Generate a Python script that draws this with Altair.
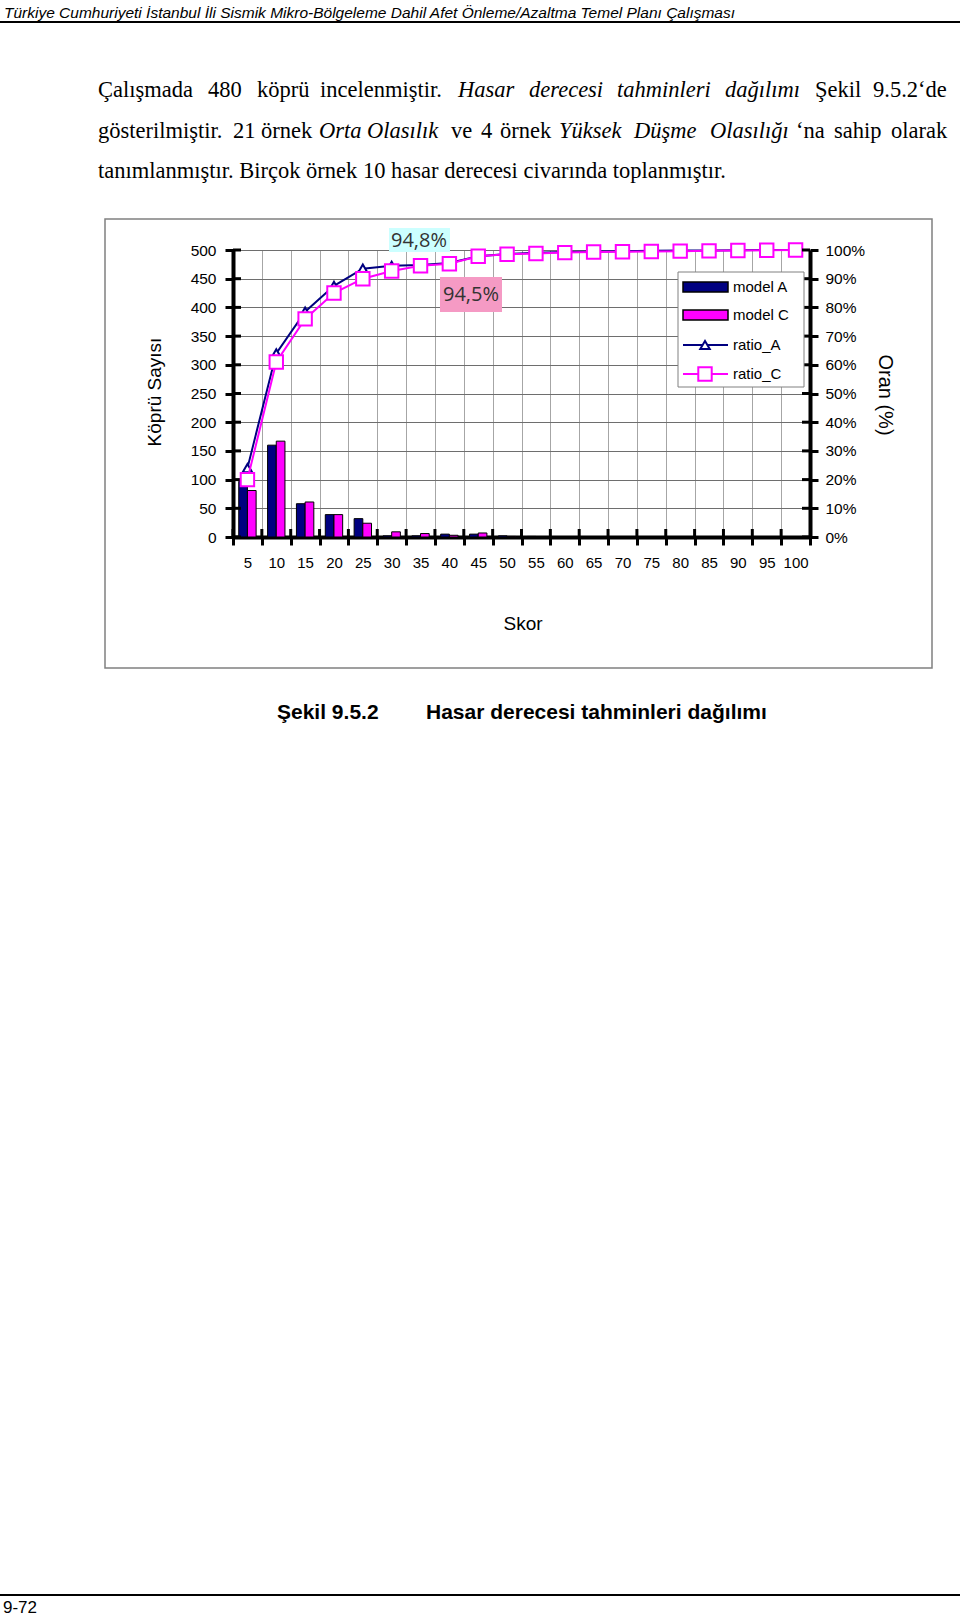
import altair as alt
import pandas as pd

# ---------------- data ----------------
scores = [5, 10, 15, 20, 25, 30, 35, 40, 45, 50, 55, 60, 65, 70, 75, 80, 85, 90, 95, 100]
model_A = [97, 160, 58, 39, 32, 2, 2, 5, 5, 2, 1, 0, 0, 0, 0, 0, 0, 0, 0, 0]
model_C = [81, 167, 61, 39, 24, 9, 6, 3, 7, 1, 0, 0, 0, 0, 0, 0, 0, 0, 0, 0]
ratio_A = [24, 64, 78.5, 87.5, 93.5, 94.5, 94.8, 95.5, 97.8, 98.6, 99, 99.3, 99.5, 99.6, 99.7, 99.8, 99.8, 99.9, 100, 100]
ratio_C = [20, 61, 76, 85, 90, 92.7, 94.5, 95.2, 97.8, 98.5, 98.8, 99.1, 99.3, 99.4, 99.5, 99.6, 99.7, 99.8, 99.9, 100]
count_ticks = list(range(0, 501, 50))
pct_ticks = list(range(0, 101, 10))
series_names = ["model A", "model C", "ratio_A", "ratio_C"]
annot_labels = ["94,8%", "94,5%"]

NAVY = "#000080"
MAG = "#FF00FF"

# plot area placement on the page
X0, Y0, PW, PH = 233, 250, 577, 287
PAGE_W, PAGE_H = 960, 1617


def px(x):
    return x - X0


def py(y):
    return y - Y0


one = pd.DataFrame({"k": [0]})

bars_df = pd.DataFrame(
    {"score": scores * 2,
     "model": ["model A"] * len(scores) + ["model C"] * len(scores),
     "count": model_A + model_C}
)
rA = pd.DataFrame({"score": scores, "ratio": ratio_A})
rC = pd.DataFrame({"score": scores, "ratio": ratio_C})

xaxis = alt.Axis(
    tickBand="extent", grid=True, gridColor="#a6a6a6", gridWidth=1,
    domainColor="black", domainWidth=4, tickColor="black", tickWidth=3,
    tickSize=8, labelAngle=0, labelFont="Liberation Sans", labelFontSize=15,
    labelColor="black", labelPadding=10, title=None,
)
yaxis_count = alt.Axis(values=count_ticks, grid=True, gridColor="#6e6e6e", gridWidth=1,
                       domainColor="black", domainWidth=4, tickColor="black",
                       tickWidth=3, tickSize=8, labelFont="Liberation Sans",
                       labelFontSize=15.5, labelColor="black", labelPadding=9,
                       orient="left", title=None)
yaxis_ratio = alt.Axis(values=pct_ticks, grid=False, orient="right",
                       labelExpr="datum.value + '%'",
                       domainColor="black", domainWidth=4, tickColor="black",
                       tickWidth=3, tickSize=8, labelFont="Liberation Sans",
                       labelFontSize=15.5, labelColor="black", labelPadding=7, title=None)

ycount_scale = alt.Scale(domain=[0, 500], nice=False)
yratio_scale = alt.Scale(domain=[0, 100], nice=False)


def xenc(**kw):
    return alt.X("score:O", sort=scores, title=None,
                 scale=alt.Scale(paddingInner=0, paddingOuter=0), axis=xaxis, **kw)


bars = alt.Chart(bars_df).mark_bar(stroke="black", strokeWidth=1).encode(
    x=xenc(),
    xOffset=alt.XOffset("model:N", scale=alt.Scale(paddingInner=0, paddingOuter=0.66)),
    y=alt.Y("count:Q", scale=ycount_scale, title=None, axis=yaxis_count),
    color=alt.Color("model:N", scale=alt.Scale(domain=["model A", "model C"], range=[NAVY, MAG]),
                    legend=None),
)

left_inner_ticks = alt.Chart(pd.DataFrame({"count": count_ticks})).mark_rule(
    color="black", strokeWidth=3).encode(
    y=alt.Y("count:Q", scale=ycount_scale, title=None, axis=yaxis_count),
    x=alt.value(0), x2=alt.value(8))

bottom_inner_ticks = alt.Chart(pd.DataFrame({"score": scores})).mark_rule(
    color="black", strokeWidth=3).encode(
    x=xenc(bandPosition=0),
    y=alt.value(PH - 8), y2=alt.value(PH))

left = alt.layer(bars, left_inner_ticks, bottom_inner_ticks)

lineA = alt.Chart(rA).mark_line(color=NAVY, strokeWidth=2).encode(
    x=xenc(), y=alt.Y("ratio:Q", scale=yratio_scale, title=None, axis=yaxis_ratio))
ptsA = alt.Chart(rA).mark_point(shape="triangle-up", size=90, filled=True, fill="white",
                                 stroke=NAVY, strokeWidth=2, opacity=1).encode(
    x=xenc(), y=alt.Y("ratio:Q", scale=yratio_scale, title=None, axis=yaxis_ratio))
lineC = alt.Chart(rC).mark_line(color=MAG, strokeWidth=2).encode(
    x=xenc(), y=alt.Y("ratio:Q", scale=yratio_scale, title=None, axis=yaxis_ratio))
ptsC = alt.Chart(rC).mark_point(shape="square", size=180, filled=True, fill="white",
                                 stroke=MAG, strokeWidth=2, opacity=1).encode(
    x=xenc(), y=alt.Y("ratio:Q", scale=yratio_scale, title=None, axis=yaxis_ratio))
right_inner_ticks = alt.Chart(pd.DataFrame({"ratio": pct_ticks})).mark_rule(
    color="black", strokeWidth=3).encode(
    y=alt.Y("ratio:Q", scale=yratio_scale, title=None, axis=yaxis_ratio),
    x=alt.value(PW - 8), x2=alt.value(PW))

right = alt.layer(lineA, ptsA, lineC, ptsC, right_inner_ticks)


# ---------------- page decorations ----------------
def txt(s, x, y, size, font="Liberation Sans", style="normal", weight="normal",
        align="left", baseline="alphabetic", angle=0, color="black"):
    return alt.Chart(pd.DataFrame({"t": [s]})).mark_text(
        align=align, baseline=baseline, font=font, fontSize=size, fontStyle=style,
        fontWeight=weight, angle=angle, color=color).encode(
        x=alt.value(px(x)), y=alt.value(py(y)), text="t:N")


def box(x1, y1, x2, y2, fill="white", stroke=None, sw=1):
    kw = dict(fill=fill)
    if stroke:
        kw.update(stroke=stroke, strokeWidth=sw)
    return alt.Chart(one).mark_rect(**kw).encode(
        x=alt.value(px(x1)), x2=alt.value(px(x2)), y=alt.value(py(y1)), y2=alt.value(py(y2)))


def hline(x1, x2, y, color="black", sw=2):
    return alt.Chart(one).mark_rule(color=color, strokeWidth=sw).encode(
        x=alt.value(px(x1)), x2=alt.value(px(x2)), y=alt.value(py(y)), y2=alt.value(py(y)))


deco = []
# header
deco.append(txt("Türkiye Cumhuriyeti İstanbul İli Sismik Mikro-Bölgeleme Dahil Afet Önleme/Azaltma Temel Planı Çalışması",
                4, 18, 15.5, style="italic"))
deco.append(hline(0, PAGE_W, 22, sw=2))

SER = "Liberation Serif"
FS = 22.5
line1 = [("Çalışmada", 98, "normal"), ("480", 208, "normal"), ("köprü", 257, "normal"),
         ("incelenmiştir.", 320, "normal"), ("Hasar", 458, "italic"), ("derecesi", 529, "italic"),
         ("tahminleri", 617, "italic"), ("dağılımı", 725, "italic"), ("Şekil", 815, "normal"),
         ("9.5.2‘de", 873, "normal")]
line2 = [("gösterilmiştir.", 98, "normal"), ("21", 233, "normal"), ("örnek", 261, "normal"),
         ("Orta", 319, "italic"), ("Olasılık", 367, "italic"), ("ve", 451, "normal"),
         ("4", 481, "normal"), ("örnek", 500, "normal"), ("Yüksek", 559, "italic"),
         ("Düşme", 634, "italic"), ("Olasılığı", 710, "italic"), ("‘na", 796, "normal"),
         ("sahip", 834, "normal"), ("olarak", 891, "normal")]
for w, x, st in line1:
    deco.append(txt(w, x, 97, FS, font=SER, style=st))
for w, x, st in line2:
    deco.append(txt(w, x, 138, FS, font=SER, style=st))
deco.append(txt("tanımlanmıştır. Birçok örnek 10 hasar derecesi civarında toplanmıştır.", 98, 178, FS, font=SER))

# chart frame
deco.append(box(105, 219, 932, 668, fill="transparent", stroke="#808080", sw=1.5))

# axis titles
deco.append(txt("Köprü Sayısı", 155, 392, 19, align="center", baseline="middle", angle=270))
deco.append(txt("Oran (%)", 885, 395, 20, align="center", baseline="middle", angle=90))
deco.append(txt("Skor", 523, 624, 19, align="center", baseline="middle"))

# annotations
deco.append(box(389, 228, 450, 252, fill="#CCFFFF"))
deco.append(txt(annot_labels[0], 419, 241, 20, font="Open Sans", align="center", baseline="middle", color="#333333"))
deco.append(box(440, 277, 502, 312, fill="#F59AC4"))
deco.append(txt(annot_labels[1], 471, 295, 20, font="Open Sans", align="center", baseline="middle", color="#333333"))

# legend
deco.append(box(678, 272, 804, 387, fill="white", stroke="#808080", sw=1))
deco.append(box(683, 282, 728, 292, fill=NAVY, stroke="black", sw=1.5))
deco.append(box(683, 310, 728, 320, fill=MAG, stroke="black", sw=1.5))
deco.append(hline(683, 728, 345, color=NAVY, sw=2))
deco.append(alt.Chart(one).mark_point(shape="triangle-up", size=90, filled=True, fill="white",
                                      stroke=NAVY, strokeWidth=2, opacity=1).encode(
    x=alt.value(px(705)), y=alt.value(py(345))))
deco.append(hline(683, 728, 374, color=MAG, sw=2))
deco.append(alt.Chart(one).mark_point(shape="square", size=180, filled=True, fill="white",
                                      stroke=MAG, strokeWidth=2, opacity=1).encode(
    x=alt.value(px(705)), y=alt.value(py(374))))
for name, yy in zip(series_names, [287, 315, 345, 374]):
    deco.append(txt(name, 733, yy, 15, baseline="middle"))

# caption
deco.append(txt("Şekil 9.5.2", 277, 719, 21, weight="bold"))
deco.append(txt("Hasar derecesi tahminleri dağılımı", 426, 719, 21, weight="bold"))

# footer
deco.append(hline(0, PAGE_W, 1595, sw=2))
deco.append(txt("9-72", 3, 1613, 17))

chart = alt.layer(
    left, right, *deco
).resolve_scale(y="independent").properties(
    width=PW, height=PH,
    padding={"left": X0, "top": Y0, "right": PAGE_W - X0 - PW, "bottom": PAGE_H - Y0 - PH},
    autosize=alt.AutoSizeParams(type="none"),
).configure_view(stroke="black", strokeWidth=2).configure(background="white")

chart.save("out.html", embed_options={"renderer": "svg", "actions": False})
